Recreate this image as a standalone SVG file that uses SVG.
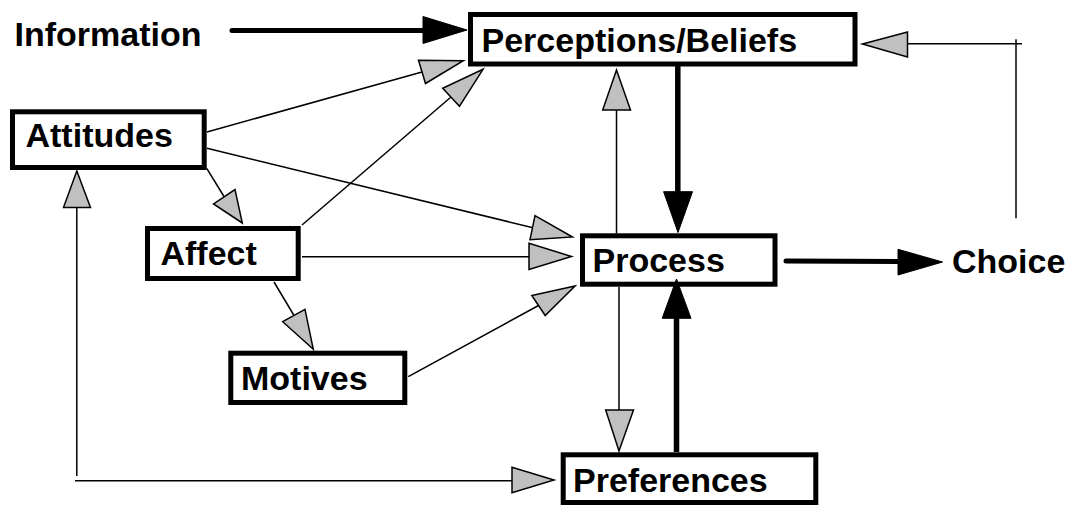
<svg xmlns="http://www.w3.org/2000/svg" width="1073" height="506" viewBox="0 0 1073 506">
<style>
.box{fill:#fff;stroke:#000;stroke-width:5}
.lbl{font-family:"Liberation Sans",Arial,Helvetica,sans-serif;font-weight:bold;font-size:33px;fill:#000}
.thin{stroke:#000;stroke-width:1.5;fill:none}
.thick{stroke:#000;stroke-width:5.5;fill:none}
.thickr{stroke:#000;stroke-width:5;fill:none;stroke-linecap:round}
.ga{fill:#c0c0c0;stroke:#000;stroke-width:1.5;stroke-linejoin:miter}
.ba{fill:#000;stroke:#000;stroke-width:1}
</style>
<rect width="1073" height="506" fill="#fff"/>
<g id="information"><text class="lbl" x="14.5" y="45.5" textLength="187" lengthAdjust="spacingAndGlyphs">Information</text></g>
<g id="perceptions"><rect class="box" x="470.5" y="14.5" width="384.5" height="49.5"/><text class="lbl" x="481.5" y="51.5" textLength="315.6" lengthAdjust="spacingAndGlyphs">Perceptions/Beliefs</text></g>
<g id="attitudes"><rect class="box" x="12.5" y="111.8" width="191.7" height="55.7"/><text class="lbl" x="25.5" y="146.5" textLength="147.3" lengthAdjust="spacingAndGlyphs">Attitudes</text></g>
<g id="affect"><rect class="box" x="147.5" y="228.5" width="150.7" height="50"/><text class="lbl" x="160.5" y="264.5" textLength="96.3" lengthAdjust="spacingAndGlyphs">Affect</text></g>
<g id="motives"><rect class="box" x="230.8" y="353.2" width="174" height="49.3"/><text class="lbl" x="241" y="389.5" textLength="126.6" lengthAdjust="spacingAndGlyphs">Motives</text></g>
<g id="process"><rect class="box" x="582.5" y="235.8" width="192.5" height="48.4"/><text class="lbl" x="592.5" y="271.5" textLength="132.3" lengthAdjust="spacingAndGlyphs">Process</text></g>
<g id="preferences"><rect class="box" x="563.2" y="454.8" width="252.6" height="47.7"/><text class="lbl" x="573" y="491.5" textLength="194.7" lengthAdjust="spacingAndGlyphs">Preferences</text></g>
<g id="choice"><text class="lbl" x="952" y="272.5" textLength="113.4" lengthAdjust="spacingAndGlyphs">Choice</text></g>
<g id="connectors">
<line class="thickr" x1="232" y1="30.5" x2="425" y2="30.5"/>
<polygon class="ba" points="467,30 423,16.5 423,43.5"/>
<line class="thin" x1="207" y1="132" x2="422" y2="72"/>
<polygon class="ga" points="463.3,60.7 418.5,60.3 425.5,83.5"/>
<line class="thin" x1="302" y1="225" x2="451" y2="97"/>
<polygon class="ga" points="483,69.3 442.7,88.3 459.5,106.2"/>
<line class="thin" x1="207" y1="148.3" x2="532" y2="227.5"/>
<polygon class="ga" points="572.5,237 535,215.7 530,239.7"/>
<line class="thin" x1="302" y1="256.7" x2="529" y2="256.7"/>
<polygon class="ga" points="571.5,256.5 529,243.3 529,269.5"/>
<line class="thin" x1="408.3" y1="376.7" x2="538.5" y2="305.5"/>
<polygon class="ga" points="575,286 531.8,295.5 545.2,315.5"/>
<line class="thin" x1="206.7" y1="168.3" x2="224" y2="196.5"/>
<polygon class="ga" points="242.3,223 213.5,204 235,189.6"/>
<line class="thin" x1="274" y1="282" x2="294" y2="315.5"/>
<polygon class="ga" points="313.3,349.3 282.7,321.7 305,309.3"/>
<line class="thin" x1="76.8" y1="476" x2="76.8" y2="207.5"/>
<polygon class="ga" points="76.8,171 63.5,207.5 90.5,207.5"/>
<line class="thin" x1="75" y1="480.7" x2="512" y2="480.7"/>
<polygon class="ga" points="554,480 512,467.3 512,492.7"/>
<line class="thin" x1="616.5" y1="233.5" x2="616.5" y2="110"/>
<polygon class="ga" points="616.5,70 602.7,110 630.5,110"/>
<line class="thick" x1="677.8" y1="66" x2="677.8" y2="192"/>
<polygon class="ba" points="678,232.5 663.6,191.7 692.5,191.7"/>
<line class="thin" x1="619" y1="286.7" x2="619" y2="410"/>
<polygon class="ga" points="619,451 605.7,410 633.5,410"/>
<line class="thick" x1="676.5" y1="452" x2="676.5" y2="318"/>
<polygon class="ba" points="676.5,279 662.2,318.3 691,318.3"/>
<line class="thickr" x1="786" y1="261" x2="899" y2="261.5"/>
<polygon class="ba" points="942.6,262 898,249.3 898,275"/>
<line class="thin" x1="1016" y1="218.3" x2="1016" y2="39.3"/>
<line class="thin" x1="1022" y1="43.8" x2="907.5" y2="43.8"/>
<polygon class="ga" points="862.5,44 907.5,32 907.5,57"/>
</g>
</svg>
